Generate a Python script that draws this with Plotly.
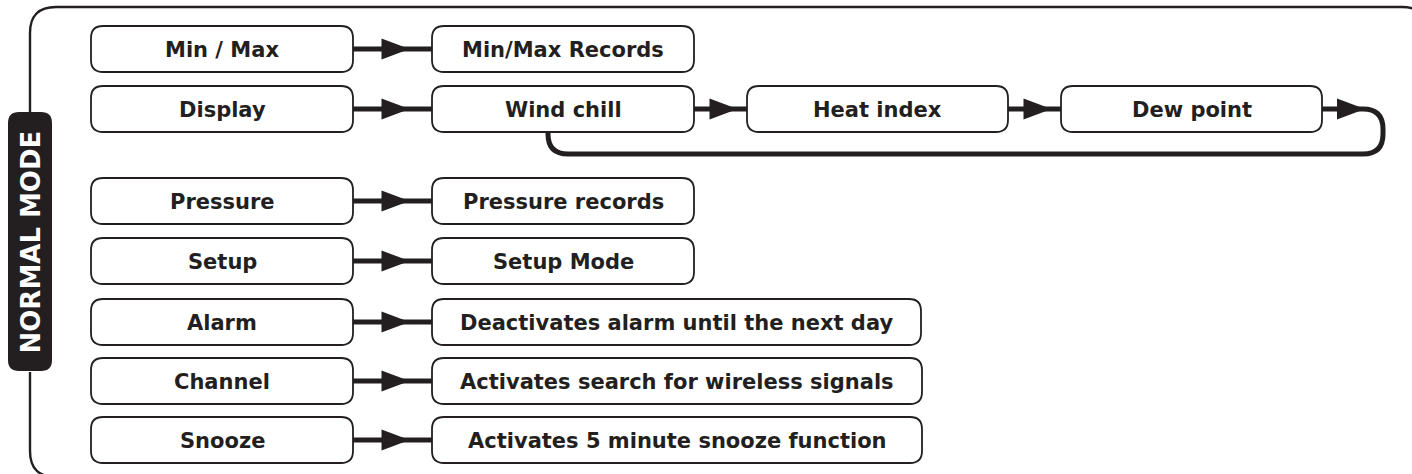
import plotly.graph_objects as go

# ---- data (texts) ----
mode_label = "NORMAL MODE"
button_labels = ["Min / Max", "Display", "Pressure", "Setup", "Alarm", "Channel", "Snooze"]
result_labels = ["Min/Max Records", "Wind chill", "Pressure records", "Setup Mode",
                 "Deactivates alarm until the next day",
                 "Activates search for wireless signals",
                 "Activates 5 minute snooze function"]
display_chain = ["Heat index", "Dew point"]

# ---- layout geometry (pixels) ----
W, H = 1412, 474
INK = "#231f20"
row_y = [49, 109, 201, 261, 322, 381, 440]
box_h = 46
left_x = (91, 353)
right_x0 = 432
right_x1 = [694, 694, 694, 694, 921, 922, 922]
chain_x = [(747, 1008), (1061, 1322)]
FONT = "DejaVu Sans"
FS = 21

shapes = []
annotations = []


def rrect(x0, y0, x1, y1, r):
    return (f"M{x0+r},{y0} L{x1-r},{y0} Q{x1},{y0} {x1},{y0+r} L{x1},{y1-r} "
            f"Q{x1},{y1} {x1-r},{y1} L{x0+r},{y1} Q{x0},{y1} {x0},{y1-r} "
            f"L{x0},{y0+r} Q{x0},{y0} {x0+r},{y0} Z")


def box(x0, x1, yc, text):
    shapes.append(dict(type="path", xref="x", yref="y",
                       path=rrect(x0, yc - box_h / 2, x1, yc + box_h / 2, 12),
                       line=dict(color=INK, width=1.8), fillcolor="white", layer="above"))
    annotations.append(dict(x=(x0 + x1) / 2, y=yc + 1, xref="x", yref="y", text=text,
                            showarrow=False, xanchor="center", yanchor="middle",
                            font=dict(family=FONT, size=FS, color=INK, weight="bold")))


def arrow(xa, xb, yc):
    shapes.append(dict(type="line", xref="x", yref="y", x0=xa, x1=xb, y0=yc, y1=yc,
                       line=dict(color=INK, width=5), layer="below"))
    mid = (xa + xb) / 2 + 3
    hx0, hx1 = mid - 14, mid + 14
    shapes.append(dict(type="path", xref="x", yref="y",
                       path=f"M{hx0},{yc-10.5} L{hx1},{yc} L{hx0},{yc+10.5} Z",
                       line=dict(color=INK, width=0), fillcolor=INK, layer="below"))


# outer frame (right and bottom edges run just outside the picture)
shapes.append(dict(type="path", xref="x", yref="y",
                   path=("M30,112 L30,33 Q30,7 56,7 L1402,7 Q1428,7 1428,33 L1428,451 "
                         "Q1428,477 1402,477 L56,477 Q30,477 30,451 L30,372"),
                   line=dict(color=INK, width=2.4), layer="below"))

# mode label
shapes.append(dict(type="path", xref="x", yref="y", path=rrect(8, 112, 52, 371, 11),
                   line=dict(color=INK, width=0), fillcolor=INK, layer="above"))
annotations.append(dict(x=30.5, y=242, xref="x", yref="y", text=mode_label, textangle=-90,
                        showarrow=False, xanchor="center", yanchor="middle",
                        font=dict(family=FONT, size=26, color="white", weight="bold")))

# rows
for i, (bl, rl) in enumerate(zip(button_labels, result_labels)):
    yc = row_y[i]
    arrow(left_x[1], right_x0, yc)
    box(left_x[0], left_x[1], yc, bl)
    box(right_x0, right_x1[i], yc, rl)

# display chain
prev = right_x1[1]
for (x0, x1), lab in zip(chain_x, display_chain):
    arrow(prev, x0, row_y[1])
    box(x0, x1, row_y[1], lab)
    prev = x1

# loop back from Dew point to Wind chill
ly = row_y[1]
shapes.append(dict(type="path", xref="x", yref="y",
                   path=(f"M{prev},{ly} L1363,{ly} Q1383,{ly} 1383,{ly+20} L1383,134 "
                         f"Q1383,154 1363,154 L568,154 Q548,154 548,134 L548,{ly+20}"),
                   line=dict(color=INK, width=5), layer="below"))
hx = 1351
shapes.append(dict(type="path", xref="x", yref="y",
                   path=f"M{hx-14},{ly-10.5} L{hx+14},{ly} L{hx-14},{ly+10.5} Z",
                   line=dict(color=INK, width=0), fillcolor=INK, layer="below"))

fig = go.Figure()
fig.add_trace(go.Scatter(x=[0, W], y=[0, H], mode="markers", marker=dict(opacity=0),
                         hoverinfo="skip", showlegend=False))
fig.update_layout(
    width=W, height=H, margin=dict(l=0, r=0, t=0, b=0),
    paper_bgcolor="white", plot_bgcolor="white",
    xaxis=dict(range=[0, W], visible=False, fixedrange=True),
    yaxis=dict(range=[H, 0], visible=False, fixedrange=True),
    shapes=shapes, annotations=annotations, showlegend=False,
)
fig.write_html("out.html", config={"displayModeBar": False},
               post_script="document.body.style.margin='0';document.body.style.padding='0';"
                           "document.body.style.overflow='hidden';")
